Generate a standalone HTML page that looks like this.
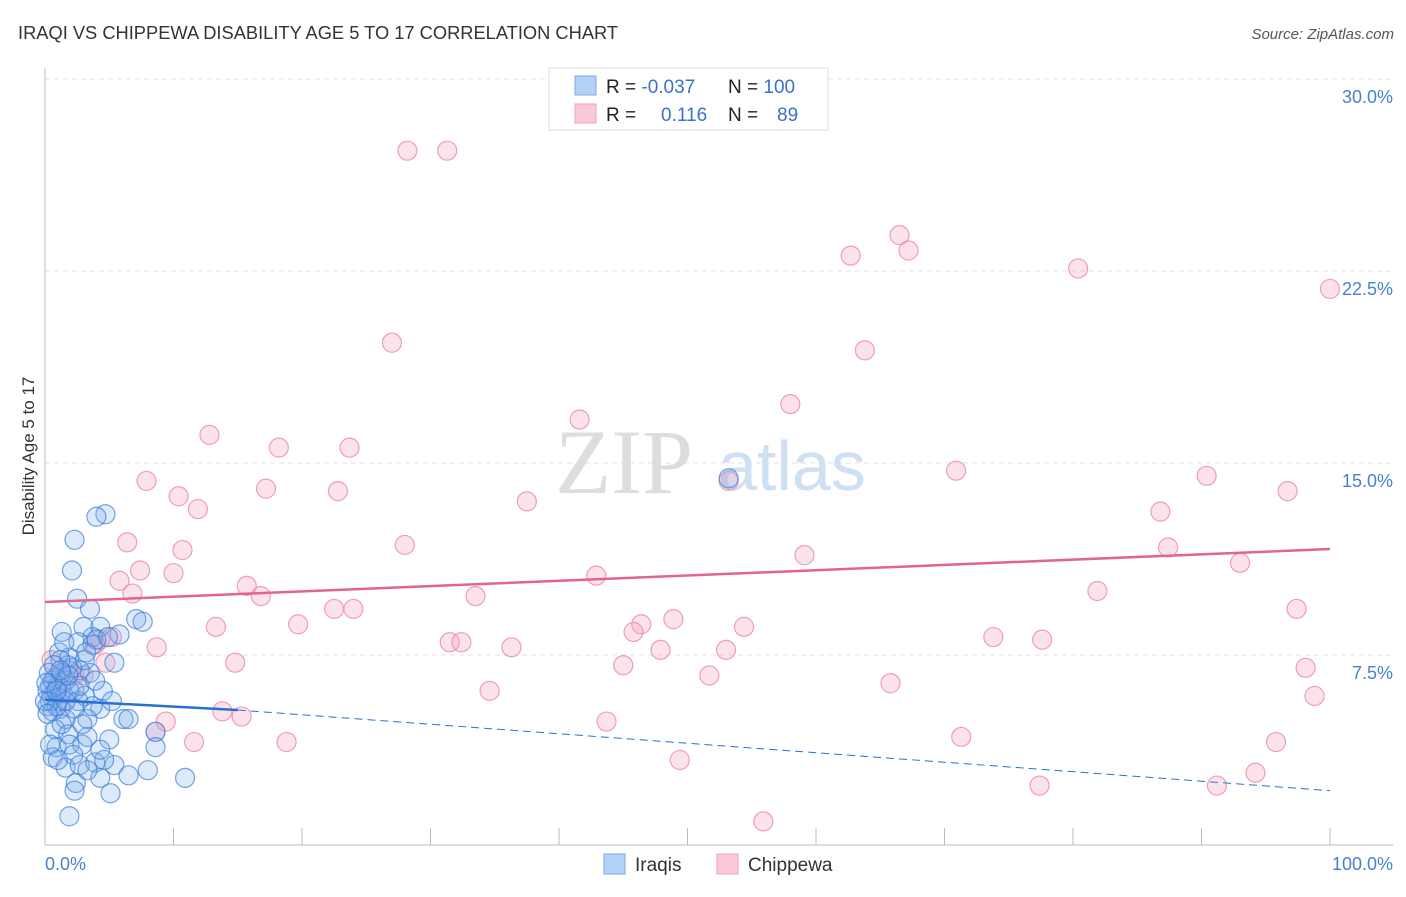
<!DOCTYPE html>
<html><head><meta charset="utf-8"><style>
body{margin:0;background:#fff;font-family:"Liberation Sans",sans-serif}
</style></head><body>
<svg width="1406" height="892" xmlns="http://www.w3.org/2000/svg" font-family="Liberation Sans, sans-serif">
<text x="18" y="39" font-size="18.3" fill="#333">IRAQI VS CHIPPEWA DISABILITY AGE 5 TO 17 CORRELATION CHART</text>
<text x="1394" y="39" font-size="15" fill="#555" font-style="italic" text-anchor="end">Source: ZipAtlas.com</text>
<text x="34" y="456" font-size="17" fill="#333" text-anchor="middle" transform="rotate(-90 34 456)">Disability Age 5 to 17</text>
<g id="grid"></g>
<g><text x="555" y="493" font-size="92" fill="#ddd" font-family="Liberation Serif, serif">ZIP</text><text x="718" y="490" font-size="70" fill="#cfe0f3">atlas</text></g>
<g id="axes"></g>
<g id="pink"></g>
<g id="blue"></g>
<g id="trend"></g>
<g>
<rect x="549" y="68" width="279" height="62" fill="#fff" stroke="#ddd"/>
<rect x="575" y="76" width="21" height="19" fill="#b3d0f5" stroke="#7aaae6"/>
<rect x="575" y="104" width="21" height="19" fill="#fbcad9" stroke="#efa0bb"/>
<text x="606" y="93" font-size="19" fill="#222">R = <tspan fill="#3a72c9">-0.037</tspan><tspan x="728">N = </tspan><tspan fill="#3a72c9">100</tspan></text>
<text x="606" y="121" font-size="19" fill="#222">R = <tspan x="661" fill="#3a72c9">0.116</tspan><tspan x="728">N = </tspan><tspan x="777" fill="#3a72c9">89</tspan></text>
</g>
<g>
<rect x="604" y="854" width="21" height="20" fill="#b3d0f5" stroke="#7aaae6"/>
<text x="635" y="871" font-size="19" fill="#333">Iraqis</text>
<rect x="717" y="854" width="21" height="20" fill="#fbcad9" stroke="#efa0bb"/>
<text x="748" y="871" font-size="19" fill="#333">Chippewa</text>
</g>
</svg>
<script>
const yTicks=[7.5,15,22.5,30];
const yTickLabels=["7.5%","15.0%","22.5%","30.0%"];
const xTickLabels=["0.0%","100.0%"];
const pinkX=[28.2,31.3,66.5,67.2,62.7,80.4,100,27.0,63.8,58.0,41.6,12.8,18.2,23.7,53.2,70.9,90.4,96.7,7.9,10.4,17.2,22.8,37.5,11.9,86.8,6.4,10.7,28.0,59.1,87.4,7.4,10.0,5.8,93.0,42.9,15.7,16.8,6.8,33.5,81.9,22.5,24.0,97.4,19.7,13.3,48.9,46.4,45.8,54.4,73.8,77.6,31.5,32.4,36.3,8.7,47.9,53.0,14.8,45.0,98.1,51.7,65.8,34.6,98.8,13.8,15.3,9.4,43.7,11.6,18.8,71.3,95.8,49.4,94.2,77.4,91.2,55.9,4.3,5.2,3.9,3.0,2.3,4.7,1.2,0.8,1.9,1.6,8.6,0.5];
const pinkY=[27.2,27.2,23.9,23.3,23.1,22.6,21.8,19.7,19.4,17.3,16.7,16.1,15.6,15.6,14.3,14.7,14.5,13.9,14.3,13.7,14.0,13.9,13.5,13.2,13.1,11.9,11.6,11.8,11.4,11.7,10.8,10.7,10.4,11.1,10.6,10.2,9.8,9.9,9.8,10.0,9.3,9.3,9.3,8.7,8.6,8.9,8.7,8.4,8.6,8.2,8.1,8.0,8.0,7.8,7.8,7.7,7.7,7.2,7.1,7.0,6.7,6.4,6.1,5.9,5.3,5.1,4.9,4.9,4.1,4.1,4.3,4.1,3.4,2.9,2.4,2.4,1.0,8.1,8.2,7.9,6.7,6.7,7.2,6.5,6.1,6.9,5.7,4.5,7.3];
const blueX=[4.7,4.0,2.3,2.1,2.5,7.1,7.6,1.3,4.3,3.0,3.7,5.8,2.6,3.7,1.1,1.9,5.4,3.5,2.7,1.8,1.3,0.8,0.4,0.5,1.0,0.2,0.6,1.2,2.3,3.1,4.5,4.3,3.3,1.6,6.1,0.8,1.8,0.9,1.9,2.9,5.0,8.6,8.6,3.3,0.6,2.2,1.6,2.7,3.9,5.4,8.0,6.5,4.3,2.4,2.3,5.1,10.9,1.9,1.2,0.2,0.4,0.9,0,0.2,1.0,1.6,2.1,3.1,3.7,2.6,1.3,0.4,3.3,4.6,1.2,3.5,4.0,4.9,1.9,1.6,0.6,0.3,2.3,2.9,1.0,4.3,5.2,1.5,0.7,0.1,2.7,3.9,1.8,0.9,3.2,53.2,6.5,1.2];
const blueY=[13.0,12.9,12.0,10.8,9.7,8.9,8.8,8.4,8.6,8.6,8.2,8.3,8.0,7.9,7.6,7.4,7.2,6.8,6.9,7.1,6.8,6.6,6.3,5.9,5.7,5.5,5.3,5.4,6.1,5.9,6.1,5.4,5.0,5.0,5.0,4.6,4.4,3.9,4.0,4.0,4.2,4.5,3.9,4.3,3.5,3.6,3.1,3.2,3.3,3.2,3.0,2.8,2.7,2.5,2.2,2.1,2.7,1.2,6.0,6.1,5.7,5.5,5.7,5.2,6.3,6.5,7.0,7.3,5.5,5.7,4.8,4.0,3.0,3.4,7.3,9.3,8.1,8.2,6.1,5.7,6.5,6.8,5.4,4.8,3.4,3.8,5.7,8.0,7.1,6.4,6.3,6.5,6.7,6.1,7.6,14.4,5.0,6.9];
const blueTrendX=[0,15,100];
const blueTrendY=[5.75,5.35,2.2];
const pinkTrendX=[0,100];
const pinkTrendY=[9.57,11.64];
const NS="http://www.w3.org/2000/svg";
const sx=v=>45+v*12.85;
const sy=v=>847-v*25.6;
function mk(tag,attrs,parent){const e=document.createElementNS(NS,tag);for(const k in attrs)e.setAttribute(k,attrs[k]);parent.appendChild(e);return e;}
const grid=document.getElementById('grid'),axes=document.getElementById('axes');
yTicks.forEach((t,i)=>{
 const l=mk('line',{x1:45,x2:1393,y1:sy(t),y2:sy(t),stroke:'#e2e2e2','stroke-dasharray':'5,4'},grid);
 
 
 const tx=mk('text',{x:1393,y:sy(t)+24,'font-size':18,fill:'#4a80d0','text-anchor':'end'},axes);
 tx.textContent=yTickLabels[i];
 
 
});
mk('line',{x1:45,x2:45,y1:68,y2:845,stroke:'#bbb'},axes);
mk('line',{x1:45,x2:1393,y1:845,y2:845,stroke:'#bbb'},axes);
for(let k=1;k<=10;k++){const t=mk('line',{x1:sx(k*10),x2:sx(k*10),y1:828,y2:845,stroke:'#bbb'},axes);
 
 }
[[0,'start',45],[100,'end',1393]].forEach((a,i)=>{const tx=mk('text',{x:a[2],y:870,'font-size':18,fill:'#4a80d0','text-anchor':a[1]},axes);tx.textContent=xTickLabels[i];
 
 });
const pg=document.getElementById('pink'),bg=document.getElementById('blue');
pinkX.forEach((x,i)=>{const c=mk('circle',{cx:sx(x),cy:sy(pinkY[i]),r:9.5,fill:'rgba(246,160,190,0.3)',stroke:'rgba(232,130,165,0.75)','stroke-width':1.2},pg);
 
 });
blueX.forEach((x,i)=>{const c=mk('circle',{cx:sx(x),cy:sy(blueY[i]),r:9.5,fill:'rgba(120,170,235,0.25)',stroke:'rgba(60,125,215,0.7)','stroke-width':1.2},bg);
 
 });
const tg=document.getElementById('trend');
const pl=mk('line',{x1:sx(pinkTrendX[0]),y1:sy(pinkTrendY[0]),x2:sx(pinkTrendX[1]),y2:sy(pinkTrendY[1]),stroke:'#e36391','stroke-width':2.5},tg);


const bl=mk('line',{x1:sx(blueTrendX[0]),y1:sy(blueTrendY[0]),x2:sx(blueTrendX[1]),y2:sy(blueTrendY[1]),stroke:'#2a6fd6','stroke-width':2.5},tg);


const bd=mk('line',{x1:sx(blueTrendX[1]),y1:sy(blueTrendY[1]),x2:sx(blueTrendX[2]),y2:sy(blueTrendY[2]),stroke:'#2a6fd6','stroke-width':1,'stroke-dasharray':'8,5'},tg);


</script>
</body></html>
